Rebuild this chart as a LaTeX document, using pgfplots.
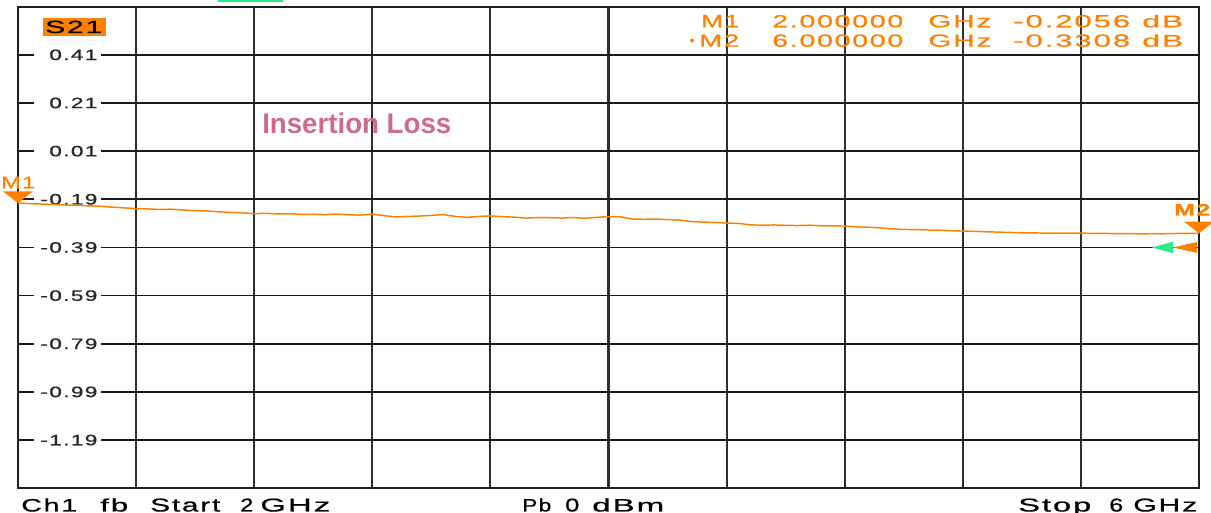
\documentclass[border=0pt]{standalone}
\usepackage{pgfplots}
\pgfplotsset{compat=1.18}
\usepackage{fontspec}
\setmainfont{Liberation Sans}
\newfontfamily\vna{Liberation Sans}[LetterSpace=6, FakeBold=0.6]
\newdimen\px \px=0.75pt
\definecolor{vnaor}{RGB}{255,128,0}
\definecolor{vnagr}{RGB}{40,235,135}
\definecolor{vnapk}{RGB}{208,106,140}
\pgfdeclareplotmark{mkdown}{\pgfpathmoveto{\pgfpointorigin}\pgfpathlineto{\pgfpoint{-11.25pt}{8.7pt}}\pgfpathlineto{\pgfpoint{11.25pt}{8.7pt}}\pgfpathclose\pgfusepathqfill}
\pgfdeclareplotmark{refor}{\pgfpathmoveto{\pgfpoint{-19.5pt}{0pt}}\pgfpathlineto{\pgfpoint{-1.5pt}{4.1pt}}\pgfpathlineto{\pgfpoint{-1.5pt}{-4.1pt}}\pgfpathclose\pgfusepathqfill}
\pgfdeclareplotmark{refgr}{\pgfpathmoveto{\pgfpoint{-35.25pt}{0pt}}\pgfpathlineto{\pgfpoint{-19.5pt}{4.3pt}}\pgfpathlineto{\pgfpoint{-19.5pt}{-4.3pt}}\pgfpathclose\pgfusepathqfill}
\newcommand\tl[1]{\scalebox{1.5}[1]{#1}}
\newcommand\tx[6][black]{\node[anchor=base west, inner sep=0pt, text=#1] at (#2,#3) {\resizebox{#4\px}{#5\px}{\vna #6}};}
\begin{document}
\begin{tikzpicture}
\begin{axis}[
  set layers,
  scale only axis, width=885.75pt, height=361.2pt,
  xmin=2, xmax=6, ymin=-1.39, ymax=0.61,
  clip=false,
  xtick={2.4,2.8,3.2,3.6,4.0,4.4,4.8,5.2,5.6}, xticklabels={},
  ytick={-1.19,-0.99,-0.79,-0.59,-0.39,-0.19,0.01,0.21,0.41},
  yticklabels={\tl{-1.19},\tl{-0.99},\tl{-0.79},\tl{-0.59},\tl{-0.39},\tl{-0.19},\tl{0.01},\tl{0.21},\tl{0.41}},
  major tick length=0pt,
  grid=major,
  x grid style={line width=1.6pt, black!82},
  y grid style={line width=1.2pt, black!90},
  axis line style={line width=1.7pt, black!88},
  yticklabel style={anchor=east, xshift=62.25pt, fill=white, inner xsep=2.5pt, inner ysep=0.5pt,
    text width=45pt, align=right, text=black!85, font=\vna\fontsize{11.3}{11.3}\selectfont},
]
\addplot[vnaor, line width=1.1pt] coordinates {
(2.00,-0.2056) (2.04,-0.2080) (2.08,-0.2098) (2.12,-0.2110) (2.16,-0.2138)
(2.20,-0.2150) (2.24,-0.2172) (2.28,-0.2190) (2.32,-0.2228) (2.36,-0.2256)
(2.40,-0.2285) (2.44,-0.2300) (2.48,-0.2322) (2.52,-0.2310) (2.56,-0.2345)
(2.60,-0.2370) (2.64,-0.2385) (2.68,-0.2420) (2.72,-0.2440) (2.76,-0.2465)
(2.80,-0.2495) (2.84,-0.2480) (2.88,-0.2510) (2.92,-0.2500) (2.96,-0.2525)
(3.00,-0.2520) (3.04,-0.2535) (3.08,-0.2515) (3.12,-0.2540) (3.16,-0.2555)
(3.20,-0.2515) (3.24,-0.2580) (3.28,-0.2630) (3.32,-0.2610) (3.36,-0.2595)
(3.40,-0.2570) (3.44,-0.2530) (3.48,-0.2610) (3.52,-0.2650) (3.56,-0.2610)
(3.60,-0.2590) (3.64,-0.2620) (3.68,-0.2640) (3.72,-0.2680) (3.76,-0.2660)
(3.80,-0.2665) (3.84,-0.2680) (3.88,-0.2655) (3.92,-0.2685) (3.96,-0.2650)
(4.00,-0.2615) (4.04,-0.2625) (4.08,-0.2720) (4.12,-0.2730) (4.16,-0.2720)
(4.20,-0.2745) (4.24,-0.2760) (4.28,-0.2820) (4.32,-0.2845) (4.36,-0.2860)
(4.40,-0.2890) (4.44,-0.2900) (4.48,-0.2960) (4.52,-0.2975) (4.56,-0.2965)
(4.60,-0.2980) (4.64,-0.2990) (4.68,-0.2975) (4.72,-0.3000) (4.76,-0.3005)
(4.80,-0.3010) (4.84,-0.3045) (4.88,-0.3060) (4.92,-0.3085) (4.96,-0.3130)
(5.00,-0.3150) (5.04,-0.3160) (5.08,-0.3175) (5.12,-0.3180) (5.16,-0.3200)
(5.20,-0.3220) (5.24,-0.3230) (5.28,-0.3250) (5.32,-0.3262) (5.36,-0.3275)
(5.40,-0.3290) (5.44,-0.3295) (5.48,-0.3305) (5.52,-0.3300) (5.56,-0.3310)
(5.60,-0.3300) (5.64,-0.3320) (5.68,-0.3315) (5.72,-0.3330) (5.76,-0.3325)
(5.80,-0.3335) (5.84,-0.3330) (5.88,-0.3332) (5.92,-0.3320) (5.96,-0.3315)
(6.00,-0.3308)
};
\addplot[only marks, mark=mkdown, vnaor] coordinates {(2,-0.2056) (6,-0.3308)};
\addplot[only marks, mark=refgr, vnagr] coordinates {(6,-0.39)};
\addplot[only marks, mark=refor, vnaor] coordinates {(6,-0.39)};
\coordinate (TL) at (rel axis cs:0,1);
\end{axis}
\begin{scope}[shift={(TL)}, xshift=-13.5pt, yshift=5.0pt, x=0.75pt, y=-0.75pt]
  % green indicator at top
  \fill[vnagr] (218,0) rectangle (283,2.5);
  % S21 box
  \fill[vnaor] (43,18) rectangle (106,36);
  \tx{45}{33}{57}{12.3}{S21}
  % Insertion loss
  \node[anchor=base west, inner sep=0pt, text=vnapk] at (262,133.3) {\resizebox{189\px}{20.6\px}{\bfseries Insertion Loss}};
  % marker labels
  \tx[vnaor]{1}{188.3}{34}{11.6}{M1}
  \node[anchor=base west, inner sep=0pt, text=vnaor] at (1174,215.5) {\resizebox{36\px}{11.5\px}{\vna\bfseries M2}};
  % marker readout
  \tx[vnaor]{701}{27.3}{38}{12.3}{M1}
  \tx[vnaor]{772}{27.3}{131}{12.3}{2.000000}
  \tx[vnaor]{928}{27.3}{63}{12.3}{GHz}
  \tx[vnaor]{1013}{27.3}{117}{12.3}{-0.2056}
  \tx[vnaor]{1142}{27.3}{41}{12.3}{dB}
  \fill[vnaor] (692,40.5) circle (2);
  \tx[vnaor]{699}{46.7}{40}{12.3}{M2}
  \tx[vnaor]{772}{46.7}{131}{12.3}{6.000000}
  \tx[vnaor]{928}{46.7}{63}{12.3}{GHz}
  \tx[vnaor]{1013}{46.7}{117}{12.3}{-0.3308}
  \tx[vnaor]{1142}{46.7}{41}{12.3}{dB}
  % bottom status line
  \tx{21}{511.5}{56}{13}{Ch1}
  \tx{100}{511.5}{28}{13}{fb}
  \tx{150}{511.5}{70}{13}{Start}
  \tx{240}{511.5}{13}{13}{2}
  \tx{260}{511.5}{70}{13}{GHz}
  \tx{522}{511.5}{29}{13}{Pb}
  \tx{565}{511.5}{14}{13}{0}
  \tx{592}{511.5}{72}{13}{dBm}
  \tx{1018}{511.5}{73}{13}{Stop}
  \tx{1109}{511.5}{14}{13}{6}
  \tx{1133}{511.5}{64}{13}{GHz}
  \pgfresetboundingbox
  \path[use as bounding box] (0,0) rectangle (1211,513);
\end{scope}
\end{tikzpicture}
\end{document}
